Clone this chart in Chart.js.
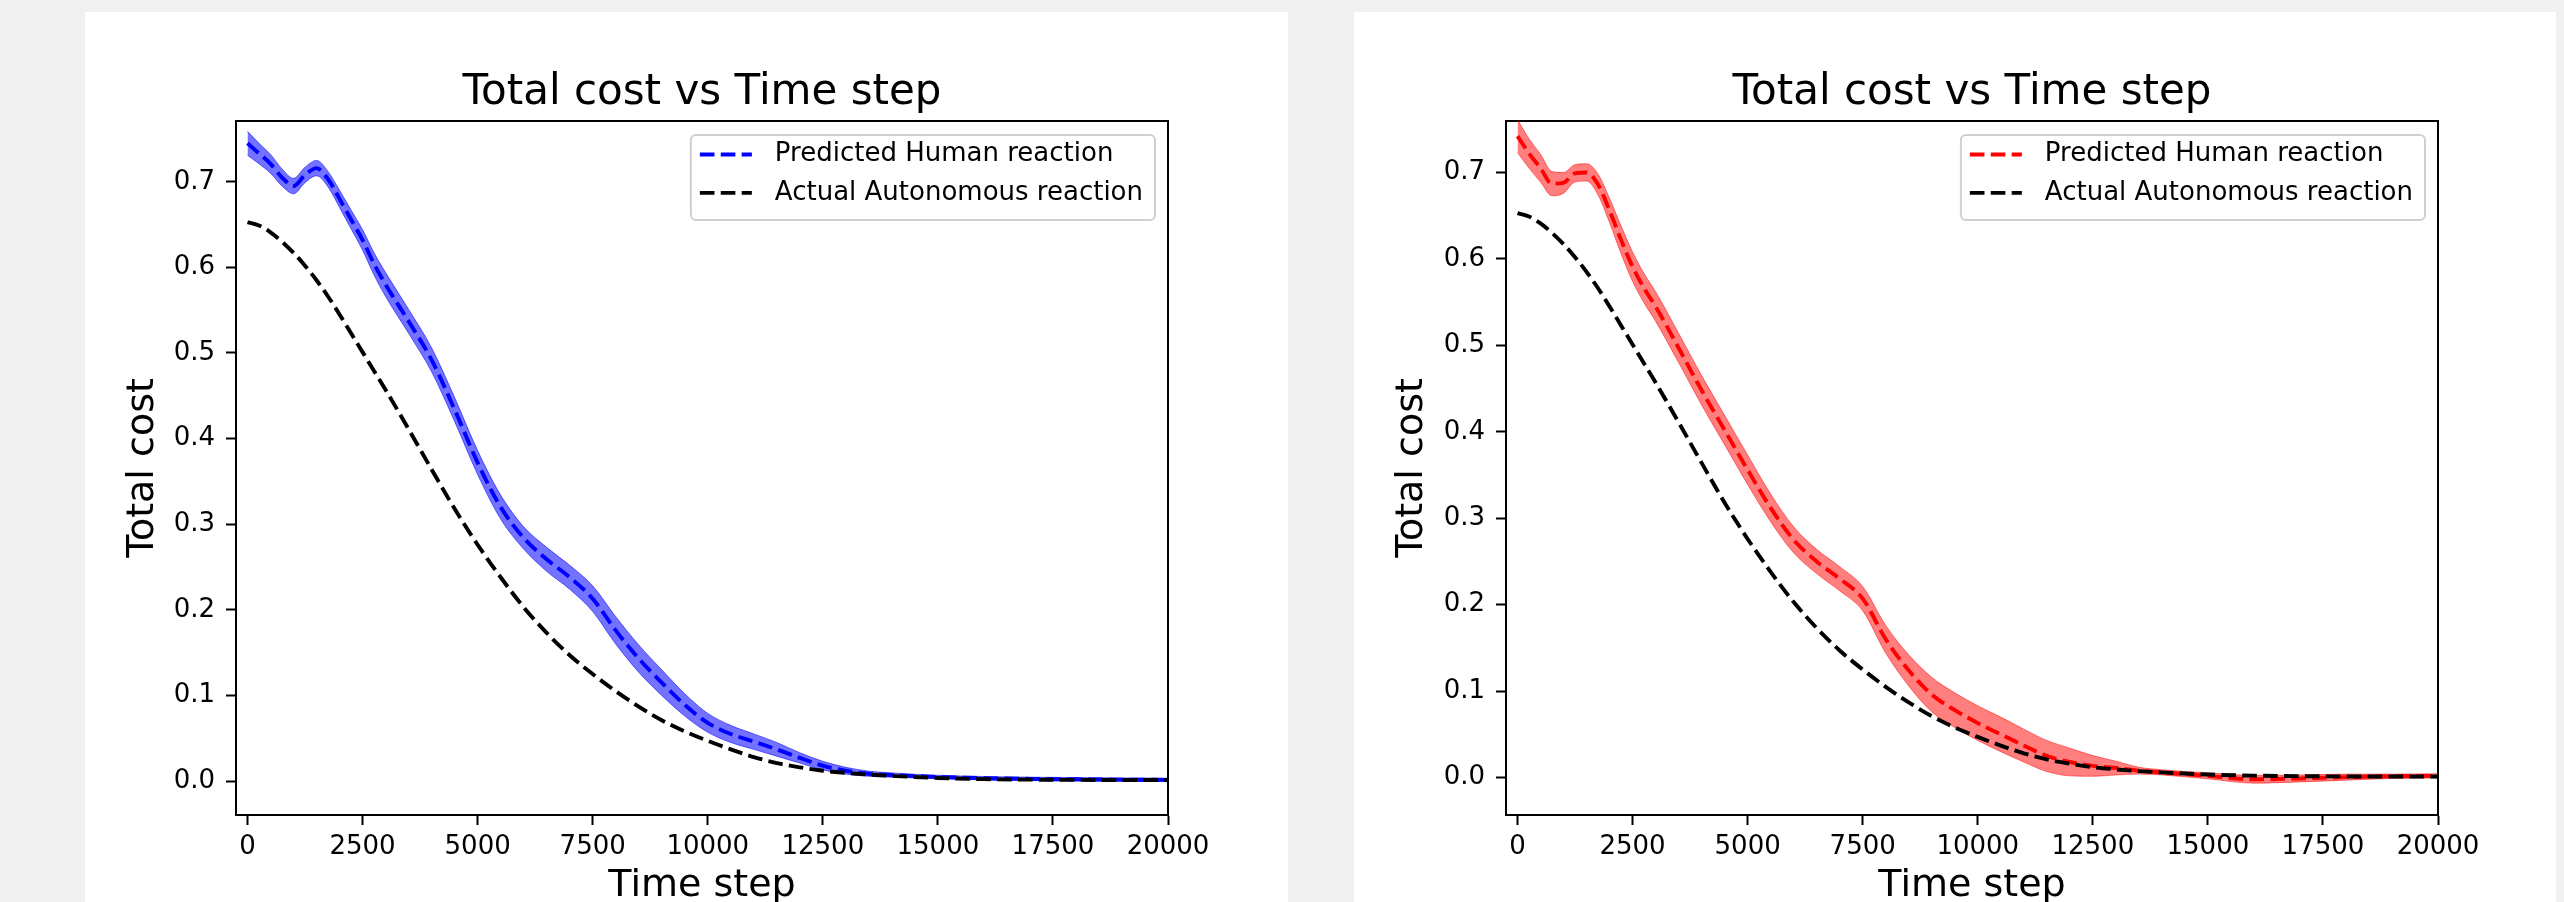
<!DOCTYPE html>
<html lang="en">
<head>
    <meta charset="UTF-8">
    <title>Total cost vs Time step</title>
    <script src="https://cdn.jsdelivr.net/npm/chart.js"></script>
    <style>
        html, body {
            margin: 0;
            width: 2564px;
            height: 902px;
            overflow: hidden;
            background: #f0f0f0;
        }

        .card {
            position: absolute;
            top: 12px;
            height: 890px;
            background: white;
        }

        canvas {
            position: absolute;
            top: 12px;
        }
    </style>
</head>
<body>
    <div class="card" style="left:85px; width:1203px;"></div>
    <div class="card" style="left:1354px; width:1202px;"></div>
    <canvas id="leftChart" width="1234" height="920" style="left:85px;"></canvas>
    <canvas id="rightChart" width="1236" height="920" style="left:1354px;"></canvas>

    <script>
        const steps = [0, 250, 500, 750, 1000, 1250, 1500, 1750, 2000, 2250, 2500, 2750, 3000,
            3500, 4000, 4500, 5000, 5500, 6000, 6500, 7000, 7500, 8000, 8500, 9000, 9500, 10000,
            10500, 11000, 11500, 12000, 12500, 13000, 13500, 14000, 15000, 16000, 17000, 18000,
            19000, 20000];

        // actual autonomous reaction (same in both panels)
        const autoCost = [0.653, 0.649, 0.641, 0.630, 0.617, 0.602, 0.585, 0.566, 0.545, 0.523,
            0.501, 0.479, 0.457, 0.411, 0.364, 0.318, 0.276, 0.238, 0.203, 0.173, 0.147, 0.125,
            0.105, 0.087, 0.071, 0.058, 0.047, 0.037, 0.028, 0.021, 0.016, 0.012, 0.0095, 0.0075,
            0.006, 0.0035, 0.0022, 0.0016, 0.0013, 0.0012, 0.0012];

        // predicted human reaction, left panel (blue)
        const humanBlue = [0.745, 0.733, 0.721, 0.705, 0.695, 0.708, 0.716, 0.703, 0.680, 0.656,
            0.632, 0.604, 0.580, 0.537, 0.492, 0.434, 0.372, 0.320, 0.284, 0.259, 0.238, 0.213,
            0.176, 0.143, 0.115, 0.089, 0.068, 0.055, 0.046, 0.037, 0.027, 0.018, 0.012, 0.0085,
            0.007, 0.0047, 0.0033, 0.0025, 0.002, 0.0016, 0.0013];
        const humanBlueStd = [0.014, 0.012, 0.011, 0.010, 0.009, 0.009, 0.009, 0.009, 0.010, 0.011,
            0.012, 0.013, 0.014, 0.014, 0.014, 0.014, 0.014, 0.014, 0.013, 0.014, 0.014, 0.015,
            0.016, 0.016, 0.015, 0.013, 0.011, 0.010, 0.009, 0.008, 0.006, 0.005, 0.004, 0.003,
            0.0025, 0.002, 0.002, 0.002, 0.002, 0.002, 0.002];

        // predicted human reaction, right panel (red)
        const humanRed = [0.742, 0.722, 0.705, 0.687, 0.688, 0.699, 0.700, 0.686, 0.656, 0.622,
            0.591, 0.566, 0.545, 0.497, 0.448, 0.402, 0.356, 0.312, 0.275, 0.250, 0.230, 0.207,
            0.160, 0.124, 0.096, 0.078, 0.063, 0.050, 0.037, 0.025, 0.018, 0.0135, 0.011, 0.008,
            0.006, 0.002, -0.002, -0.001, 0.0005, 0.0015, 0.002];
        const humanRedStd = [0.019, 0.017, 0.016, 0.014, 0.012, 0.010, 0.010, 0.012, 0.014, 0.016,
            0.017, 0.017, 0.017, 0.017, 0.017, 0.017, 0.017, 0.016, 0.015, 0.014, 0.014, 0.014,
            0.016, 0.018, 0.020, 0.020, 0.020, 0.020, 0.019, 0.018, 0.016, 0.012, 0.008, 0.004,
            0.003, 0.0035, 0.0045, 0.004, 0.0035, 0.0025, 0.0025];

        const xTicks = [0, 2500, 5000, 7500, 10000, 12500, 15000, 17500, 20000];
        const yTicks = [0.0, 0.1, 0.2, 0.3, 0.4, 0.5, 0.6, 0.7];

        const FONT = "'DejaVu Sans', sans-serif";
        Chart.defaults.font.family = FONT;
        Chart.defaults.color = '#000';

        // matplotlib style legend inside the upper right corner of the axes
        const insideLegend = {
            id: 'insideLegend',
            afterDraw(chart) {
                const {ctx, chartArea} = chart;
                const items = chart.data.datasets.filter(d => d.label);
                ctx.save();
                ctx.font = '26px ' + FONT;
                const textW = Math.max(...items.map(d => ctx.measureText(d.label).width));
                const w = 84 + textW + 12;
                const h = 85;
                const x = chartArea.right - 13 - w;
                const y = chartArea.top + 14;
                ctx.fillStyle = 'rgba(255,255,255,0.8)';
                ctx.strokeStyle = '#d0d0d0';
                ctx.lineWidth = 2;
                ctx.beginPath();
                ctx.roundRect(x, y, w, h, 5);
                ctx.fill();
                ctx.stroke();
                items.forEach((d, i) => {
                    const cy = y + 19.5 + i * 38.4;
                    ctx.strokeStyle = d.borderColor;
                    ctx.lineWidth = d.borderWidth;
                    ctx.setLineDash(d.borderDash);
                    ctx.beginPath();
                    ctx.moveTo(x + 9, cy);
                    ctx.lineTo(x + 61, cy);
                    ctx.stroke();
                    ctx.setLineDash([]);
                    ctx.fillStyle = '#000';
                    ctx.textBaseline = 'middle';
                    ctx.textAlign = 'left';
                    ctx.fillText(d.label, x + 84, cy);
                });
                ctx.restore();
            }
        };

        const spine = { display: true, color: '#000', width: 2 };

        function makeChart(id, human, std, lineColor, bandColor, yMin, yMax, sideW) {
            const pts = arr => steps.map((s, i) => ({ x: s, y: arr[i] }));
            const lower = human.map((v, i) => v - std[i]);
            const upper = human.map((v, i) => v + std[i]);
            const lineBase = {
                pointRadius: 0,
                cubicInterpolationMode: 'monotone',
                fill: false
            };

            return new Chart(document.getElementById(id), {
                type: 'line',
                data: {
                    datasets: [
                        { ...lineBase, label: 'Predicted Human reaction', data: pts(human),
                          borderColor: lineColor, borderWidth: 3.9, borderDash: [14.6, 6.3], order: 1 },
                        { ...lineBase, label: 'Actual Autonomous reaction', data: pts(autoCost),
                          borderColor: '#000', borderWidth: 3.9, borderDash: [14.6, 6.3], order: 0 },
                        { ...lineBase, label: '', data: pts(lower),
                          borderWidth: 1, borderColor: bandColor, order: 2 },
                        { ...lineBase, label: '', data: pts(upper), fill: '-1',
                          borderWidth: 1, borderColor: bandColor,
                          backgroundColor: bandColor, order: 3 }
                    ]
                },
                options: {
                    responsive: false,
                    animation: false,
                    devicePixelRatio: 1,
                    layout: { padding: 0 },
                    plugins: {
                        legend: { display: false },
                        tooltip: { enabled: false },
                        title: {
                            display: true,
                            text: 'Total cost vs Time step',
                            font: { size: 42, weight: 'normal' },
                            color: '#000',
                            padding: { top: 56, bottom: 0 }
                        }
                    },
                    scales: {
                        x: {
                            type: 'linear',
                            position: 'bottom',
                            min: -250,
                            max: 20000,
                            afterBuildTicks: s => { s.ticks = xTicks.map(v => ({ value: v })); },
                            afterFit: s => { s.height = 117; },
                            ticks: {
                                font: { size: 26 },
                                padding: 7,
                                autoSkip: false,
                                maxRotation: 0,
                                callback: v => String(v)
                            },
                            grid: { drawOnChartArea: false, drawTicks: true, tickLength: 10,
                                    tickWidth: 2, tickColor: '#000' },
                            border: spine,
                            title: { display: true, text: 'Time step', font: { size: 38 },
                                     padding: { top: 0, bottom: 23 } }
                        },
                        xTop: {
                            type: 'linear',
                            position: 'top',
                            afterFit: s => { s.height = 109 - 106.4; },
                            ticks: { display: false },
                            grid: { drawOnChartArea: false, drawTicks: false },
                            border: spine
                        },
                        y: {
                            type: 'linear',
                            position: 'left',
                            min: yMin,
                            max: yMax,
                            afterBuildTicks: s => { s.ticks = yTicks.map(v => ({ value: v })); },
                            afterFit: s => { s.width = sideW; },
                            ticks: {
                                font: { size: 26 },
                                padding: 11,
                                callback: v => v.toFixed(1)
                            },
                            grid: { drawOnChartArea: false, drawTicks: true, tickLength: 10,
                                    tickWidth: 2, tickColor: '#000' },
                            border: spine,
                            title: { display: true, text: 'Total cost', font: { size: 38 },
                                     padding: { top: 35, bottom: 0 } }
                        },
                        yRight: {
                            type: 'linear',
                            position: 'right',
                            afterFit: s => { s.width = sideW; },
                            ticks: { display: false },
                            grid: { drawOnChartArea: false, drawTicks: false },
                            border: spine
                        }
                    }
                },
                plugins: [insideLegend]
            });
        }

        makeChart('leftChart', humanBlue, humanBlueStd, '#0000ff', 'rgba(0,0,255,0.55)',
            -0.0397, 0.771, 151);
        makeChart('rightChart', humanRed, humanRedStd, '#ff0000', 'rgba(255,0,0,0.5)',
            -0.0433, 0.7595, 152);
    </script>
</body>
</html>
